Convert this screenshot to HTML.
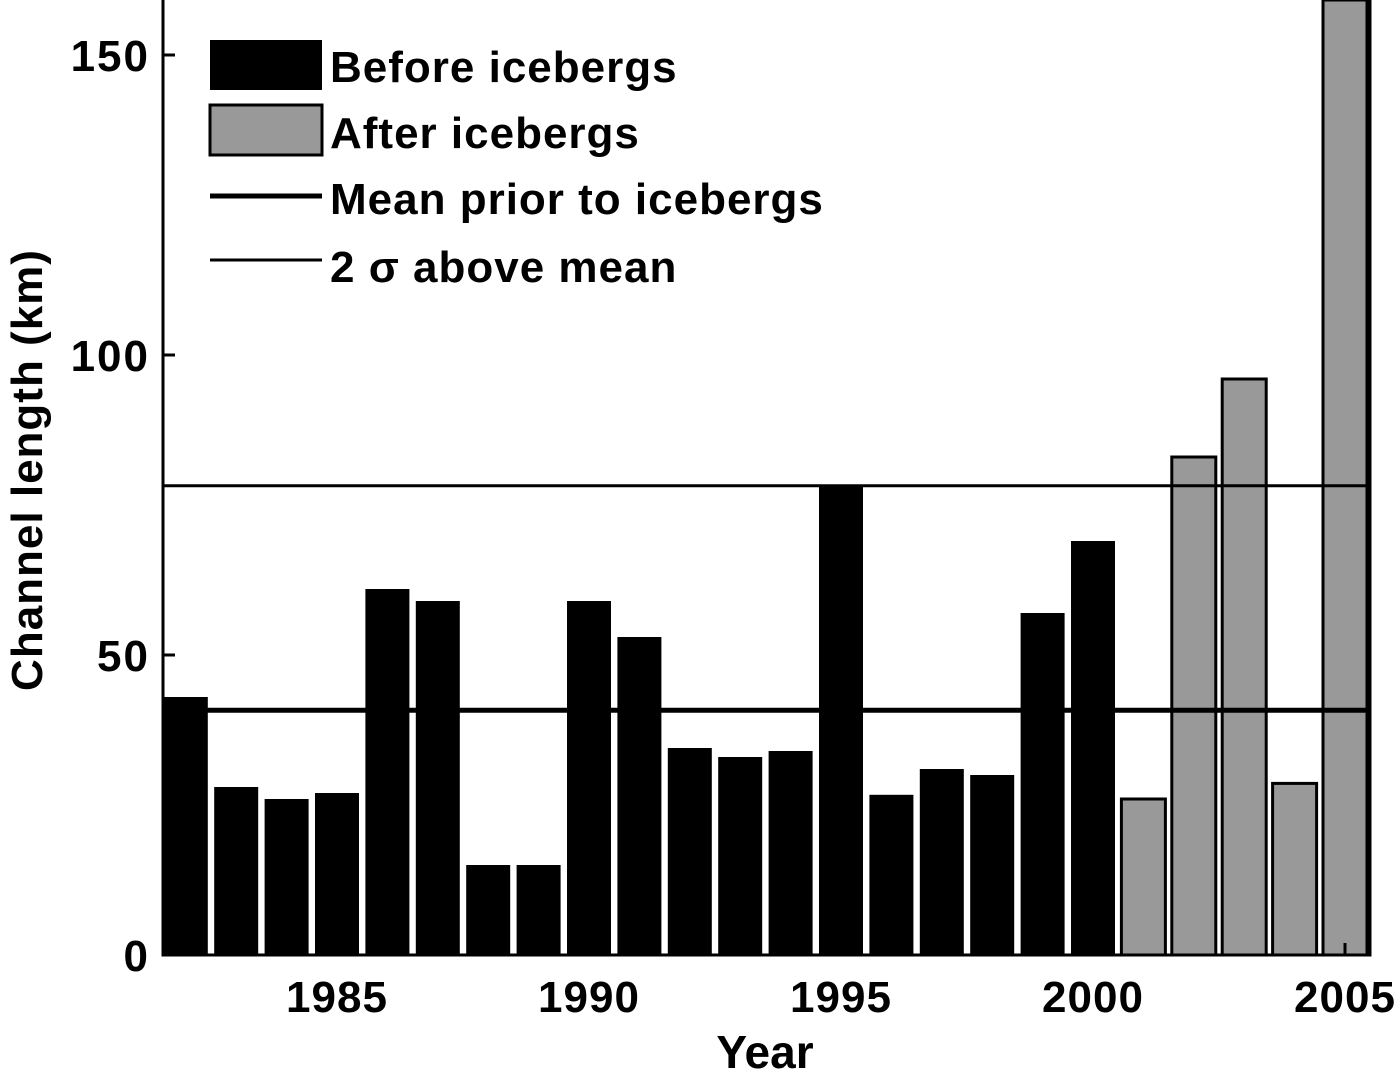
<!DOCTYPE html>
<html><head><meta charset="utf-8"><style>
html,body{margin:0;padding:0;background:#fff;}
svg{display:block;font-family:"Liberation Sans",Arial,sans-serif;font-weight:bold;}
</style></head><body>
<svg id="chart" width="1400" height="1074">
<g id="plot"></g>
</svg>
<script>
const years=[1982,1983,1984,1985,1986,1987,1988,1989,1990,1991,1992,1993,1994,1995,1996,1997,1998,1999,2000,2001,2002,2003,2004,2005];
const lengths=[43,28,26,27,61,59,15,15,59,53,34.5,33,34,78,26.7,31,30,57,69,26,83,96,28.6,170];
const afterIcebergs=[0,0,0,0,0,0,0,0,0,0,0,0,0,0,0,0,0,0,0,1,1,1,1,1];
const yTicks=[0,50,100,150];
const xTicks=[1985,1990,1995,2000,2005];
const meanLine=[40.8];
const sigmaLine=[78.2];
const NS='http://www.w3.org/2000/svg';
const L=163,R=1370,T=-5,B=955;
const yMin=0,yMax=160;
const y=v=>B-(v-yMin)/(yMax-yMin)*(B-T);
const x=yr=>337+(yr-1985)*50.4;
const g=document.getElementById('plot');
function mk(tag,a){const e=document.createElementNS(NS,tag);for(const k in a)e.setAttribute(k,a[k]);g.appendChild(e);return e;}
const clip=mk('clipPath',{id:'c'});
const cr=document.createElementNS(NS,'rect');cr.setAttribute('x',L);cr.setAttribute('y',0);cr.setAttribute('width',R-L);cr.setAttribute('height',B);clip.appendChild(cr);
const bw=44;
years.forEach((yr,i)=>{
 const top=Math.max(y(lengths[i]),0);
 const r=mk('rect',{x:x(yr)-bw/2,y:top,width:bw,height:B-top,fill:afterIcebergs[i]?'#999':'#000',stroke:'#000','stroke-width':afterIcebergs[i]?3:0,'clip-path':'url(#c)'});
 
 
});
const m=mk('line',{x1:L,x2:R,y1:y(meanLine[0]),y2:y(meanLine[0]),stroke:'#000','stroke-width':5});

const s=mk('line',{x1:L,x2:R,y1:y(sigmaLine[0]),y2:y(sigmaLine[0]),stroke:'#000','stroke-width':3});

const ax=mk('rect',{x:L,y:-3,width:R-L,height:B+3,fill:'none',stroke:'#000','stroke-width':3});

yTicks.forEach(v=>{
 mk('line',{x1:L,x2:L+12,y1:y(v),y2:y(v),stroke:'#000','stroke-width':3});
 const t=mk('text',{x:150,y:y(v)+16,'text-anchor':'end','font-size':44,'letter-spacing':2});t.textContent=v;
 
});
xTicks.forEach(v=>{
 mk('line',{x1:x(v),x2:x(v),y1:B,y2:B-12,stroke:'#000','stroke-width':3});
 const t=mk('text',{x:x(v),y:1012,'text-anchor':'middle','font-size':44,'letter-spacing':1});t.textContent=v;
 
});
const xt=mk('text',{x:765,y:1068,'text-anchor':'middle','font-size':46});xt.textContent='Year';

const yt=mk('text',{x:0,y:0,'text-anchor':'middle','font-size':44,'letter-spacing':1,transform:'translate(42,470) rotate(-90)'});yt.textContent='Channel length (km)';

// legend
const lb=mk('rect',{x:210,y:40,width:112,height:50,fill:'#000'});
const la=mk('rect',{x:210,y:105,width:112,height:50,fill:'#999',stroke:'#000','stroke-width':3});
mk('line',{x1:210,x2:322,y1:196,y2:196,stroke:'#000','stroke-width':5});
mk('line',{x1:210,x2:322,y1:260,y2:260,stroke:'#000','stroke-width':3});
[['Before icebergs',82],['After icebergs',148],['Mean prior to icebergs',214],['2 σ above mean',282]].forEach(([txt,yy])=>{
 const t=mk('text',{x:330,y:yy,'font-size':44,'letter-spacing':1});t.textContent=txt;
 
});
</script>
</body></html>
